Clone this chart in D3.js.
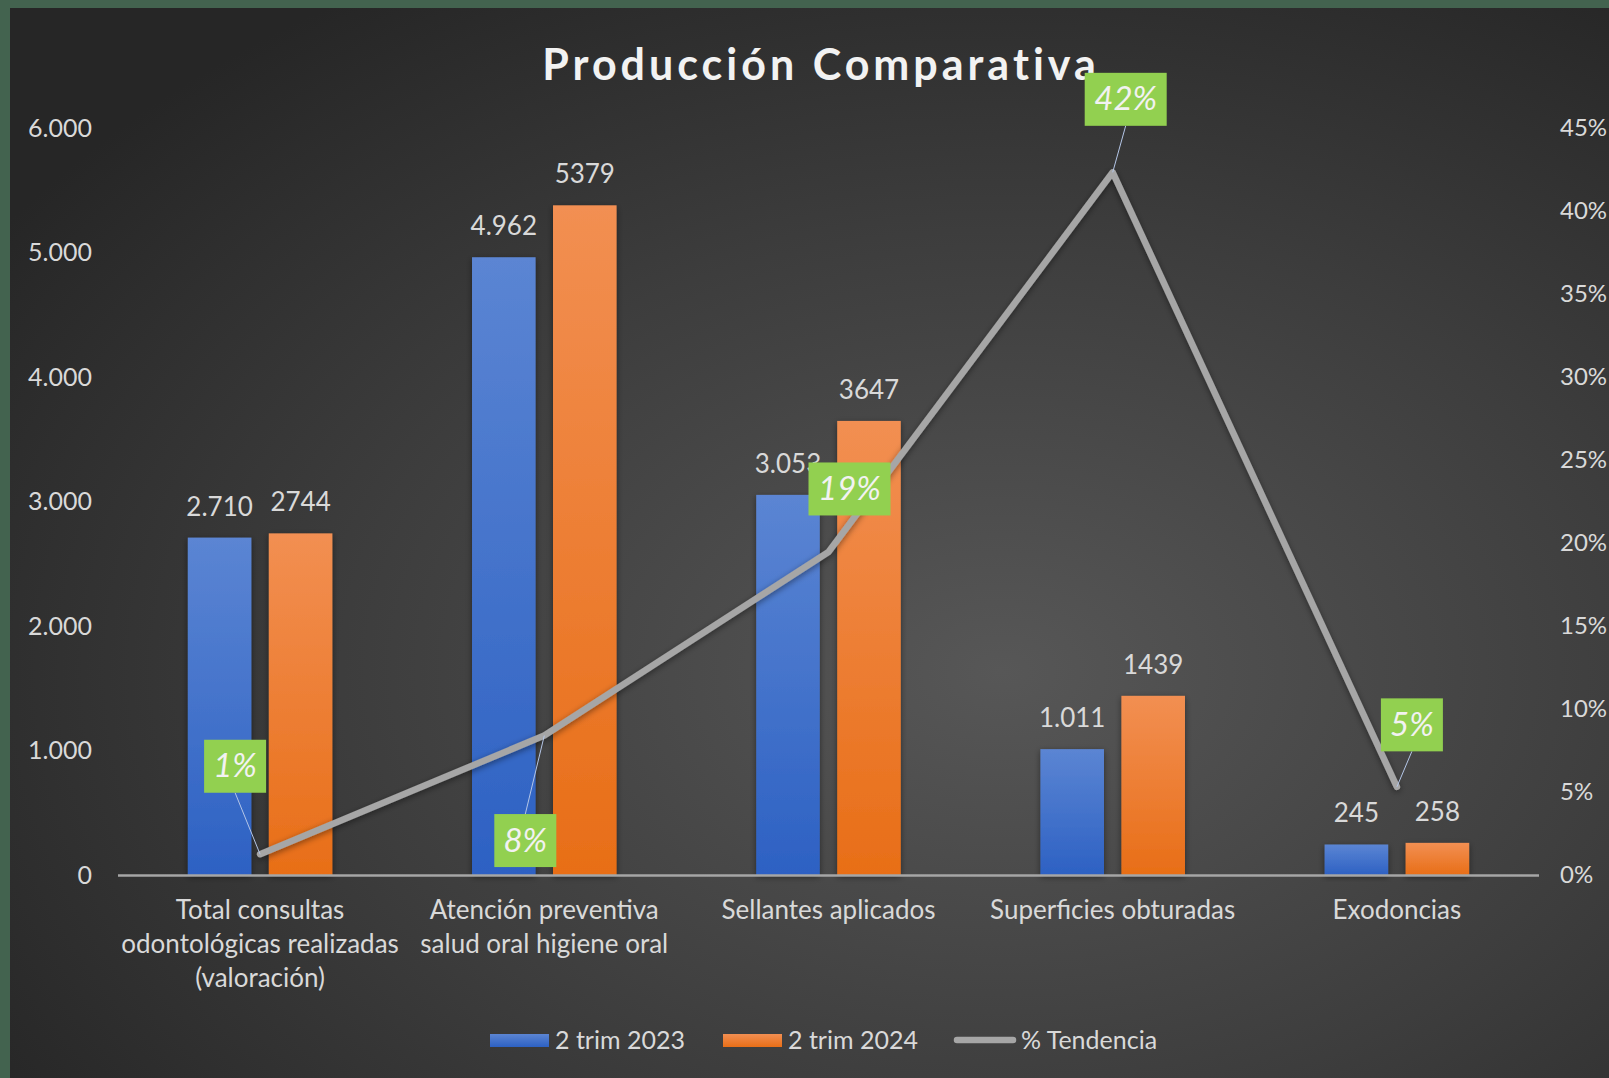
<!DOCTYPE html>
<html><head><meta charset="utf-8">
<script src="https://cdn.jsdelivr.net/npm/d3@7"></script>
<style>
html,body{margin:0;padding:0;background:#43634f;}
svg{display:block;}
</style></head>
<body>
<svg id="chart" width="1609" height="1078"></svg>
<script>
const categories = [
  ["Total consultas","odontológicas realizadas","(valoración)"],
  ["Atención preventiva","salud oral higiene oral"],
  ["Sellantes aplicados"],
  ["Superficies obturadas"],
  ["Exodoncias"]
];
const trim2023 = [2710, 4962, 3053, 1011, 245];
const trim2024 = [2744, 5379, 3647, 1439, 258];
const tendencia = [0.0125, 0.084, 0.1946, 0.4233, 0.0531];
const tendenciaLabels = ["1%", "8%", "19%", "42%", "5%"];
const leftTicks = [0, 1000, 2000, 3000, 4000, 5000, 6000];
const rightTicks = [0, 0.05, 0.10, 0.15, 0.20, 0.25, 0.30, 0.35, 0.40, 0.45];
const seriesNames = ["2 trim 2023", "2 trim 2024", "% Tendencia"];
const title = "Producción Comparativa";

const W = 1609, H = 1078;
const svg = d3.select("#chart");
const defs = svg.append("defs");
const FONT = "Lato, 'Open Sans', sans-serif";

// background
const bg = defs.append("radialGradient").attr("id","bg")
  .attr("cx","0.62").attr("cy","0.62").attr("r","0.75");
bg.append("stop").attr("offset","0").attr("stop-color","#575757");
bg.append("stop").attr("offset","0.55").attr("stop-color","#3d3d3d");
bg.append("stop").attr("offset","1").attr("stop-color","#262626");
svg.append("rect").attr("x",0).attr("y",0).attr("width",W).attr("height",H).attr("fill","#43634f");
svg.append("rect").attr("x",10).attr("y",8).attr("width",W-10).attr("height",H-8).attr("fill","url(#bg)");

// gradients for bars
function barGrad(id, top, bot){
  const g = defs.append("linearGradient").attr("id",id).attr("x1",0).attr("y1",0).attr("x2",0).attr("y2",1);
  g.append("stop").attr("offset","0").attr("stop-color",top);
  g.append("stop").attr("offset","1").attr("stop-color",bot);
}
barGrad("gBlue","#5b85d3","#2d61c3");
barGrad("gOrange","#f28f52","#e86e17");
const shadow = defs.append("filter").attr("id","sh").attr("x","-20%").attr("y","-20%").attr("width","140%").attr("height","140%");
shadow.append("feDropShadow").attr("dx",0).attr("dy",2).attr("stdDeviation",3).attr("flood-color","#000").attr("flood-opacity",0.45);

const x0 = 118, x1 = 1539, yBase = 875, yTop = 128;
const x = d3.scaleBand().domain(d3.range(categories.length)).range([x0,x1]).paddingInner(0).paddingOuter(0);
const xs = d3.scaleBand().domain([0,1]).range([0,x.bandwidth()]).paddingInner(0.215).paddingOuter(0.862);
const y = d3.scaleLinear().domain([0,6000]).range([yBase,yTop]);
const y2 = d3.scaleLinear().domain([0,0.45]).range([yBase,yTop]);

// title
svg.append("text").attr("x",821).attr("y",80).attr("text-anchor","middle")
  .attr("font-family",FONT).attr("font-weight","bold").attr("font-size",43)
  .attr("letter-spacing","4px").attr("fill","#f2f2f2").text(title);

// left axis
const leftAxis = d3.axisLeft(y).tickValues(leftTicks).tickSize(0).tickPadding(0)
  .tickFormat(d => d3.format(",")(d).replace(/,/g,"."));
const gl = svg.append("g").attr("transform",`translate(92,0)`).call(leftAxis);
gl.select(".domain").remove();
gl.selectAll("text").attr("font-family",FONT).attr("font-size",25).attr("fill","#d9d9d9");

// right axis
const rightAxis = d3.axisRight(y2).tickValues(rightTicks).tickSize(0).tickPadding(0)
  .tickFormat(d3.format(".0%"));
const gr = svg.append("g").attr("transform",`translate(1560,0)`).call(rightAxis);
gr.select(".domain").remove();
gr.selectAll("text").attr("font-family",FONT).attr("font-size",24).attr("fill","#d9d9d9");

// bars
const series = [
  {vals: trim2023, fill:"url(#gBlue)", fmt: d => d3.format(",")(d).replace(/,/g,".")},
  {vals: trim2024, fill:"url(#gOrange)", fmt: d => String(d)}
];
series.forEach((s, si) => {
  svg.append("g").selectAll("rect").data(s.vals).join("rect")
    .attr("x",(d,i)=>x(i)+xs(si)).attr("width",xs.bandwidth())
    .attr("y",d=>y(d)).attr("height",d=>yBase-y(d))
    .attr("fill",s.fill).attr("filter","url(#sh)");
});

// baseline
svg.append("line").attr("x1",x0).attr("x2",x1).attr("y1",yBase+0.5).attr("y2",yBase+0.5)
  .attr("stroke","#a6a6a6").attr("stroke-width",2.5);

// bar value labels
series.forEach((s, si) => {
  svg.append("g").selectAll("text").data(s.vals).join("text")
    .attr("x",(d,i)=>x(i)+xs(si)+xs.bandwidth()/2).attr("y",d=>y(d)-22)
    .attr("text-anchor","middle").attr("font-family",FONT).attr("font-size",26)
    .attr("fill","#d9d9d9").text(s.fmt);
});

// line
const cx = i => x(i) + x.bandwidth()/2;
const lineGen = d3.line().x((d,i)=>cx(i)).y(d=>y2(d));
svg.append("path").datum(tendencia).attr("d",lineGen).attr("fill","none")
  .attr("stroke","#a6a6a6").attr("stroke-width",6.5).attr("stroke-linejoin","round").attr("stroke-linecap","round")
  .attr("filter","url(#sh)");

// data label boxes
const labelOffsets = [[-25,-88],[-19,105],[21,-63],[13,-73],[15,-62]];
const boxW = t => t.length > 2 ? 82 : 62;
const boxH = 53;
const lg = svg.append("g");
tendencia.forEach((v,i) => {
  const px = cx(i), py = y2(v);
  const bx = px + labelOffsets[i][0], by = py + labelOffsets[i][1];
  const w = boxW(tendenciaLabels[i]);
  if (i !== 2) {
    const ey = labelOffsets[i][1] < 0 ? by + boxH/2 : by - boxH/2;
    lg.append("line").attr("x1",bx).attr("y1",ey).attr("x2",px).attr("y2",py)
      .attr("stroke","#b4c6e7").attr("stroke-width",1);
  }
  lg.append("rect").attr("x",bx-w/2).attr("y",by-boxH/2).attr("width",w).attr("height",boxH).attr("fill","#92d050");
  lg.append("text").attr("x",bx).attr("y",by+11).attr("text-anchor","middle")
    .attr("font-family",FONT).attr("font-style","italic").attr("font-size",33)
    .attr("fill","#f2f2f2").text(tendenciaLabels[i]);
});

// category labels
categories.forEach((lines,i) => {
  const t = svg.append("text").attr("text-anchor","middle").attr("font-family",FONT)
    .attr("font-size",26).attr("fill","#d9d9d9");
  lines.forEach((ln,j) => {
    t.append("tspan").attr("x",cx(i)).attr("y",919 + j*34).text(ln);
  });
});

// legend
const leg = svg.append("g").attr("font-family",FONT).attr("font-size",25).attr("fill","#d9d9d9");
leg.append("rect").attr("x",490).attr("y",1034).attr("width",59).attr("height",13).attr("fill","url(#gBlue)");
leg.append("text").attr("x",555).attr("y",1049).text(seriesNames[0]);
leg.append("rect").attr("x",723).attr("y",1034).attr("width",59).attr("height",13).attr("fill","url(#gOrange)");
leg.append("text").attr("x",788).attr("y",1049).text(seriesNames[1]);
leg.append("line").attr("x1",957).attr("x2",1013).attr("y1",1040).attr("y2",1040)
  .attr("stroke","#a6a6a6").attr("stroke-width",6.5).attr("stroke-linecap","round");
leg.append("text").attr("x",1021).attr("y",1049).text(seriesNames[2]);
</script>
</body></html>
